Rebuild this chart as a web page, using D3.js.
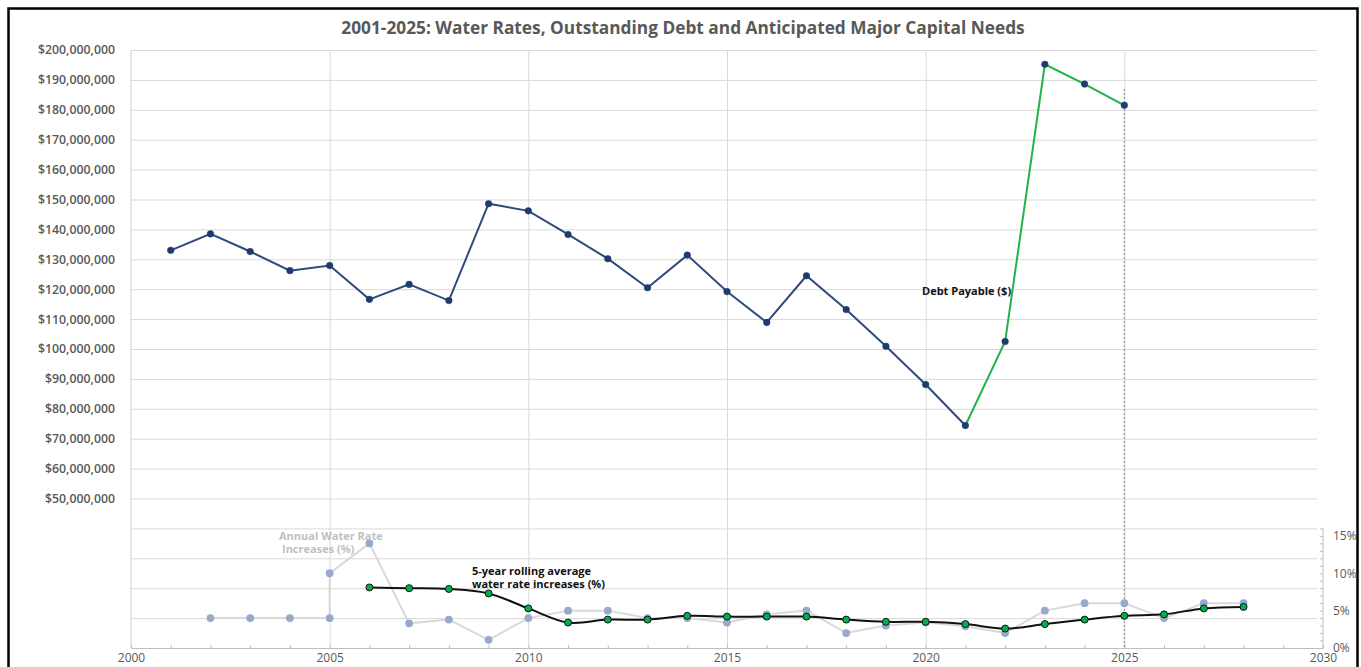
<!DOCTYPE html>
<html>
<head>
<meta charset="utf-8">
<script src="https://cdn.jsdelivr.net/npm/d3@7"></script>
<style>
  html, body { margin: 0; padding: 0; background: #fff; overflow: hidden; }
  svg { display: block; font-family: "Open Sans", sans-serif; }
</style>
</head>
<body>
<svg id="chart" width="1361" height="667"></svg>
<script>
const chartTitle = "2001-2025: Water Rates, Outstanding Debt and Anticipated Major Capital Needs";

const debtYears = [2001,2002,2003,2004,2005,2006,2007,2008,2009,2010,2011,2012,2013,2014,2015,2016,2017,2018,2019,2020,2021,2022,2023,2024,2025];
const debtValues = [133.0e6,138.5e6,132.6e6,126.2e6,127.9e6,116.6e6,121.6e6,116.2e6,148.6e6,146.2e6,138.3e6,130.2e6,120.5e6,131.4e6,119.2e6,108.9e6,124.5e6,113.2e6,100.9e6,88.1e6,74.4e6,102.5e6,195.2e6,188.6e6,181.5e6];
const projectionStartYear = 2021;

const rateYears = [2002,2003,2004,2005,2005,2006,2007,2008,2009,2010,2011,2012,2013,2014,2015,2016,2017,2018,2019,2020,2021,2022,2023,2024,2025,2026,2027,2028];
const rateValues = [4,4,4,4,10,14,3.3,3.8,1.1,4,5,5,4,4,3.4,4.5,5,2,3,3.4,2.9,2,5,6,6,4,6,6];

const avgYears = [2006,2007,2008,2009,2010,2011,2012,2013,2014,2015,2016,2017,2018,2019,2020,2021,2022,2023,2024,2025,2026,2027,2028];
const avgValues = [8.1,8.0,7.9,7.3,5.3,3.4,3.8,3.8,4.3,4.2,4.2,4.2,3.8,3.5,3.5,3.2,2.6,3.2,3.8,4.3,4.5,5.3,5.5];

const xTickYears = [2000,2005,2010,2015,2020,2025,2030];
const xGridYears = [2005,2010,2015,2020,2025];
const leftTickValues = [50e6,60e6,70e6,80e6,90e6,100e6,110e6,120e6,130e6,140e6,150e6,160e6,170e6,180e6,190e6,200e6];
const leftGridValues = [10e6,20e6,30e6,40e6,50e6,60e6,70e6,80e6,90e6,100e6,110e6,120e6,130e6,140e6,150e6,160e6,170e6,180e6,190e6,200e6];
const rightTickValues = [0,5,10,15];
const dividerYear = 2025;

const svg = d3.select("#chart");
const L = 131, R = 1323, T = 50, B = 648, gridRight = 1317;

const x = d3.scaleLinear().domain([2000, 2030]).range([L, R]);
const yL = d3.scaleLinear().domain([0, 200e6]).range([B, T]);
const yR = d3.scaleLinear().domain([0, 80]).range([B, T]);

// frame
svg.append("rect").attr("x", 8.5).attr("y", 8.5).attr("width", 1349).attr("height", 700)
  .attr("fill", "none").attr("stroke", "#000").attr("stroke-width", 2.5);

// title
svg.append("text").attr("x", 683).attr("y", 34).attr("text-anchor", "middle")
  .attr("font-size", 17.3).attr("font-weight", 700).attr("fill", "#595959").text(chartTitle);

// horizontal grid
svg.append("g").attr("transform", `translate(${L},0)`)
  .call(d3.axisLeft(yL).tickValues(leftGridValues).tickSize(-(gridRight - L)).tickFormat(""))
  .call(g => g.select(".domain").remove())
  .call(g => g.selectAll("line").attr("stroke", "#d9d9d9").attr("stroke-width", 1));

// vertical grid
svg.append("g").attr("transform", `translate(0,${B})`)
  .call(d3.axisBottom(x).tickValues(xGridYears).tickSize(-(B - T)).tickFormat(""))
  .call(g => g.select(".domain").remove())
  .call(g => g.selectAll("line").attr("stroke", "#d9d9d9").attr("stroke-width", 1));

// left axis line
svg.append("line").attr("x1", L).attr("x2", L).attr("y1", T).attr("y2", B)
  .attr("stroke", "#d0d0d0").attr("stroke-width", 1);

// left labels
svg.append("g").attr("transform", `translate(${L},0)`)
  .call(d3.axisLeft(yL).tickValues(leftTickValues).tickSize(0).tickPadding(16).tickFormat(d3.format("$,")))
  .call(g => g.select(".domain").remove())
  .call(g => g.selectAll("text").attr("font-size", 12.3).attr("font-weight", 600)
    .attr("fill", "#595959").attr("font-family", "Open Sans, sans-serif"));

// bottom axis minor ticks (inward)
svg.append("g").attr("transform", `translate(0,${B})`)
  .call(d3.axisBottom(x).ticks(30).tickSize(-3).tickFormat(""))
  .call(g => g.select(".domain").attr("stroke", "#bfbfbf"))
  .call(g => g.selectAll("line").attr("stroke", "#bfbfbf"));

// bottom axis labels
svg.append("g").attr("transform", `translate(0,${B})`)
  .call(d3.axisBottom(x).tickValues(xTickYears).tickSize(0).tickPadding(5).tickFormat(d3.format("d")))
  .call(g => g.select(".domain").remove())
  .call(g => g.selectAll("text").attr("font-size", 12).attr("fill", "#595959")
    .attr("font-family", "Open Sans, sans-serif"));

// right axis
const rAxis = svg.append("g").attr("transform", `translate(${R},0)`);
rAxis.call(d3.axisRight(yR).tickValues(d3.range(0, 17, 1)).tickSize(-3).tickFormat(""))
  .call(g => g.select(".domain").remove())
  .call(g => g.selectAll("line").attr("stroke", "#bfbfbf"));
rAxis.append("line").attr("x1", 0).attr("x2", 0).attr("y1", yR(16)).attr("y2", B).attr("stroke", "#bfbfbf");
svg.append("g").attr("transform", `translate(${R},0)`)
  .call(d3.axisRight(yR).tickValues(rightTickValues).tickSize(0).tickPadding(10).tickFormat(d => d + "%"))
  .call(g => g.select(".domain").remove())
  .call(g => g.selectAll("text").attr("font-size", 12).attr("fill", "#595959")
    .attr("font-family", "Open Sans, sans-serif"));

// dotted divider
svg.append("line").attr("x1", x(dividerYear)).attr("x2", x(dividerYear)).attr("y1", 89).attr("y2", B)
  .attr("stroke", "#8a8a8a").attr("stroke-width", 1).attr("stroke-dasharray", "2,2");

// annual rates (gray)
const rateData = rateYears.map((yr, i) => ({ x: yr, y: rateValues[i] }));
svg.append("path").datum(rateData)
  .attr("d", d3.line().x(d => x(d.x)).y(d => yR(d.y)))
  .attr("fill", "none").attr("stroke", "#d9d9d9").attr("stroke-width", 2);
svg.append("g").selectAll("circle").data(rateData).join("circle")
  .attr("cx", d => x(d.x)).attr("cy", d => yR(d.y)).attr("r", 3.3)
  .attr("fill", "#a0a8bc").attr("stroke", "#8faadc").attr("stroke-width", 1.2);

// rolling average (black smooth)
const avgData = avgYears.map((yr, i) => ({ x: yr, y: avgValues[i] }));
svg.append("path").datum(avgData)
  .attr("d", d3.line().x(d => x(d.x)).y(d => yR(d.y)).curve(d3.curveCatmullRom.alpha(0.5)))
  .attr("fill", "none").attr("stroke", "#111").attr("stroke-width", 2);
svg.append("g").selectAll("circle").data(avgData).join("circle")
  .attr("cx", d => x(d.x)).attr("cy", d => yR(d.y)).attr("r", 3.5)
  .attr("fill", "#00b050").attr("stroke", "#111").attr("stroke-width", 1);

// debt
const debtData = debtYears.map((yr, i) => ({ x: yr, y: debtValues[i] }));
const dLine = d3.line().x(d => x(d.x)).y(d => yL(d.y));
svg.append("path").datum(debtData.filter(d => d.x <= projectionStartYear))
  .attr("d", dLine).attr("fill", "none").attr("stroke", "#2f4b7c").attr("stroke-width", 2);
svg.append("path").datum(debtData.filter(d => d.x >= projectionStartYear))
  .attr("d", dLine).attr("fill", "none").attr("stroke", "#22b24c").attr("stroke-width", 2);
svg.append("g").selectAll("circle").data(debtData).join("circle")
  .attr("cx", d => x(d.x)).attr("cy", d => yL(d.y)).attr("r", 3.3)
  .attr("fill", "#1f3a6e").attr("stroke", "#1f3a6e").attr("stroke-width", 0.5);

// annotations
const ann = svg.append("g").attr("font-family", "Open Sans, sans-serif").attr("font-weight", 700).attr("font-size", 11);
ann.append("text").attr("x", 922).attr("y", 295).attr("fill", "#111").text("Debt Payable ($)");
ann.append("text").attr("x", 472).attr("y", 575).attr("fill", "#111").text("5-year rolling average");
ann.append("text").attr("x", 472).attr("y", 588).attr("fill", "#111").text("water rate increases (%)");
ann.append("text").attr("x", 279).attr("y", 540).attr("fill", "#bfbfbf").text("Annual Water Rate");
ann.append("text").attr("x", 282).attr("y", 553).attr("fill", "#bfbfbf").text("Increases (%)");
</script>
</body>
</html>
